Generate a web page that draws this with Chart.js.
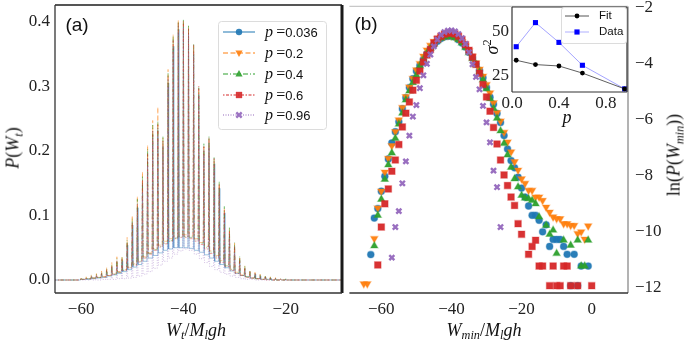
<!DOCTYPE html>
<html>
<head>
<meta charset="utf-8">
<script src="https://cdn.jsdelivr.net/npm/chart.js@4.4.1/dist/chart.umd.min.js"></script>
<style>
body { margin: 0; background: #fff; }
#fig { position: relative; width: 685px; height: 341px; overflow: hidden; background: #fff; }
canvas { position: absolute; top: 0; }
.t { position: absolute; white-space: nowrap; line-height: 1; color: #111;
     font-family: "Liberation Serif", serif; font-size: 18px; transform: translate(-50%, -50%); }
.t.rot { transform: translate(-50%, -50%) rotate(-90deg); }
.t sub { font-size: 68%; vertical-align: -0.3em; }
.t sup { font-size: 68%; vertical-align: 0.55em; font-style: normal; }
.sans { font-family: "Liberation Sans", sans-serif; }
.leg { position: absolute; white-space: nowrap; line-height: 1; color: #111;
       font-family: "Liberation Serif", serif; font-size: 16px; transform: translateY(-50%); }
.leg .sans { font-size: 13px; }
.panel { font-family: "Liberation Sans", sans-serif; font-size: 19px; }
.ileg { position: absolute; white-space: nowrap; line-height: 1; color: #111;
        font-family: "Liberation Sans", sans-serif; font-size: 11.5px; transform: translateY(-50%); }
</style>
</head>
<body>
<div id="fig">
  <canvas id="cA" width="345" height="341" style="left:0"></canvas>
  <canvas id="cB" width="342" height="341" style="left:343px"></canvas>
  <canvas id="cI" width="215" height="130" style="left:470px"></canvas>

  <div class="t panel" style="left:77px;top:24px">(a)</div>
  <div class="t panel" style="left:366px;top:23px">(b)</div>
  <div class="t rot" style="left:14px;top:148px"><i>P</i>(<i>W<sub>t</sub></i>)</div>
  <div class="t" style="left:196px;top:331px"><i>W<sub>t</sub></i>/<i>M<sub>l</sub>gh</i></div>
  <div class="t" style="left:484px;top:331px"><i>W<sub>min</sub></i>/<i>M<sub>l</sub>gh</i></div>
  <div class="t rot" style="left:675px;top:155px">ln(<i>P</i>(<i>W<sub>min</sub></i>))</div>
  <div class="t rot" style="left:491px;top:47px"><i>σ</i><sup>2</sup></div>
  <div class="t" style="left:567px;top:117px"><i>p</i></div>
  <div id="legA"></div>
  <div class="ileg" style="left:599px;top:16px">Fit</div>
  <div class="ileg" style="left:599px;top:32px">Data</div>
</div>
<script>
// ---------- panel (a): histogram of W_t, spike tops at integer W_t, floor between spikes ----------
const pLabels = ["0.036", "0.2", "0.4", "0.6", "0.96"];
const wtGrid = Array.from({ length: 41 }, (_, i) => -60 + i);   // -60 ... -20
const wtEnds = [-66, -8];

const topsA036 = [.002,.003,.005,.007,.010,.014,.020,.027,.030,.054,.085,.112,.148,.188,.225,.232,.208,.305,.362,.388,.392,.382,.352,.288,.200,.212,.180,.142,.104,.072,.050,.031,.018,.012,.009,.006,.004,.003,.002,.001,.001];
const topsA02  = [.003,.005,.008,.010,.014,.020,.027,.036,.037,.066,.100,.130,.168,.209,.247,.268,.220,.326,.380,.403,.402,.393,.362,.296,.206,.218,.186,.150,.112,.080,.057,.036,.022,.015,.012,.009,.007,.005,.004,.003,.002];
const topsA04  = [.002,.004,.007,.009,.012,.018,.024,.033,.035,.062,.095,.125,.160,.203,.240,.245,.223,.320,.378,.400,.404,.395,.366,.298,.211,.222,.191,.152,.114,.081,.058,.037,.021,.014,.011,.008,.006,.004,.003,.002,.002];
const topsA06  = [.002,.003,.006,.008,.011,.016,.022,.030,.032,.058,.090,.118,.155,.196,.232,.240,.215,.315,.372,.398,.400,.390,.364,.300,.208,.220,.188,.148,.108,.076,.053,.033,.019,.013,.010,.007,.005,.004,.003,.002,.001];
const topsA096 = [.001,.002,.003,.005,.007,.010,.015,.021,.024,.045,.074,.100,.136,.176,.214,.222,.200,.296,.355,.383,.390,.380,.350,.285,.195,.205,.172,.134,.096,.064,.042,.025,.013,.008,.006,.004,.003,.002,.001,.001,.000];

// floor of each curve half way between spikes (at k + 0.5)
const floorA036 = [.001,.001,.002,.003,.004,.006,.008,.010,.013,.016,.020,.024,.029,.034,.038,.042,.046,.048,.050,.050,.050,.049,.046,.043,.039,.034,.029,.024,.019,.014,.010,.007,.005,.003,.002,.001,.001,.000,.000,.000,.000];
const floorA02  = [.001,.002,.003,.004,.005,.007,.010,.013,.016,.020,.025,.030,.036,.042,.048,.054,.060,.064,.068,.070,.070,.068,.064,.058,.052,.045,.038,.030,.023,.017,.012,.008,.005,.003,.002,.001,.001,.000,.000,.000,.000];
const floorA04  = [.001,.002,.003,.004,.005,.007,.009,.012,.015,.019,.024,.029,.035,.041,.047,.052,.057,.061,.065,.067,.067,.066,.062,.057,.050,.043,.036,.029,.022,.016,.011,.007,.005,.003,.002,.001,.001,.000,.000,.000,.000];
const floorA06  = [.001,.002,.003,.004,.005,.007,.009,.012,.015,.019,.023,.028,.034,.040,.046,.051,.056,.060,.064,.066,.066,.064,.060,.055,.048,.041,.034,.027,.021,.015,.010,.007,.004,.003,.002,.001,.000,.000,.000,.000,.000];
const floorA096 = [.000,.000,.000,.000,.001,.001,.001,.002,.002,.003,.004,.006,.009,.013,.018,.023,.029,.034,.040,.045,.048,.046,.040,.033,.027,.021,.016,.012,.009,.006,.004,.002,.001,.001,.000,.000,.000,.000,.000,.000,.000];

const leftXTicks = [-60, -40, -20];
const leftYTicks = [0, 0.1, 0.2, 0.3, 0.4];

// ---------- panel (b): ln P(W_min) ----------
const wMinGrid = Array.from({ length: 66 }, (_, i) => -65 + i);   // -65 ... 0
const lnB036 = [null,null,-10.81,-9.51,-9.17,-8.55,-8.02,-7.40,-6.83,-6.43,-6.08,-5.61,-5.22,-4.86,-4.54,-4.27,-4.07,-3.86,-3.66,-3.48,-3.32,-3.21,-3.11,-3.05,-3.03,-3.03,-3.06,-3.15,-3.27,-3.41,-3.60,-3.80,-4.02,-4.25,-4.51,-4.86,-5.20,-5.45,-5.78,-6.10,-6.57,-7.05,-7.46,-7.72,-8.05,-8.44,-8.76,-9.08,-9.41,-9.41,-9.59,-10.00,-9.75,-10.52,-10.27,-10.27,-10.27,-10.52,-10.80,-11.92,-10.80,-11.92,-11.22,null,-11.22,null];
const lnB02  = [-11.85,-11.85,null,-10.24,-9.15,-8.55,-7.87,-7.38,-6.93,-6.43,-6.01,-5.57,-5.18,-4.84,-4.53,-4.23,-4.00,-3.74,-3.52,-3.35,-3.21,-3.12,-3.06,-3.02,-3.00,-3.01,-3.05,-3.12,-3.22,-3.38,-3.55,-3.75,-3.98,-4.20,-4.45,-4.75,-5.05,-5.40,-5.75,-6.05,-6.45,-6.80,-7.15,-7.50,-7.80,-8.11,-8.27,-8.52,-8.52,-8.76,-8.76,-8.88,-9.12,-9.30,-9.47,-9.53,-9.53,-9.71,-9.71,-9.77,-9.77,-10.06,-10.00,-10.26,-9.79,null];
const lnB04  = [null,null,null,-10.50,-9.41,-8.84,-8.13,-7.61,-7.19,-6.67,-6.16,-5.77,-5.30,-4.98,-4.68,-4.42,-4.09,-3.86,-3.64,-3.45,-3.30,-3.18,-3.10,-3.05,-3.03,-3.03,-3.08,-3.15,-3.27,-3.43,-3.62,-3.82,-4.05,-4.30,-4.58,-4.90,-5.25,-5.60,-5.95,-6.40,-6.85,-7.26,-7.70,-8.11,-8.40,-8.70,-8.80,-8.82,-8.88,-9.00,-9.47,null,-9.77,-10.09,-9.94,-10.77,null,-10.30,null,-10.48,null,-10.30,-11.22,-11.22,-10.30,null];
const lnB06  = [null,null,null,null,-11.18,-9.83,-9.00,-8.47,-7.84,-7.44,-6.89,-6.26,-5.77,-5.37,-4.95,-4.60,-4.27,-3.95,-3.70,-3.50,-3.27,-3.13,-3.03,-2.96,-2.92,-2.91,-2.95,-3.03,-3.15,-3.33,-3.53,-3.77,-4.03,-4.35,-4.75,-5.19,-5.70,-6.28,-6.87,-7.44,-7.97,-8.35,-8.76,-9.06,-9.71,-10.09,null,-10.80,-10.52,-10.30,-11.22,-11.22,null,-11.92,-11.22,-11.92,-11.92,-11.22,-11.22,-11.92,null,-11.92,null,null,null,-11.92];
const lnB096 = [null,null,null,null,null,null,null,null,-10.92,-9.83,-9.26,-8.27,-7.49,-6.57,-5.89,-5.48,-4.88,-4.42,-4.01,-3.68,-3.39,-3.15,-2.98,-2.88,-2.83,-2.82,-2.86,-2.95,-3.10,-3.30,-3.60,-4.03,-4.48,-4.92,-5.51,-6.10,-6.81,-7.82,-8.41,-9.83,null,null,null,null,null,null,null,null,null,null,null,null,null,null,null,null,null,null,null,null,null,null,null,null,null,null];
const rightXTicks = [-60, -40, -20, 0];
const rightYTicks = [-2, -4, -6, -8, -10, -12];

// ---------- inset: sigma^2 vs p ----------
const insetP = [0.036, 0.2, 0.4, 0.6, 0.96];
const sigmaFit = [33.7, 31.2, 30.4, 26.3, 17.2];
const sigmaData = [41.5, 55.4, 44.0, 30.8, 17.2];
const insetXTicks = [0, 0.4, 0.8];
const insetYTicks = [25, 50];

// ---------- styles ----------
const tab = [[31,119,180],[255,127,14],[44,160,44],[214,39,40],[148,103,189]];
const rgba = (c, a) => `rgba(${c[0]},${c[1]},${c[2]},${a})`;
const dashA = [[], [5, 2.5], [5, 2, 1, 2], [1.5, 1.5, 3, 1.5], [1, 1.5]];
const markA = [
  { style: 'circle', r: 3.2, rot: 0 },
  { style: 'triangle', r: 4, rot: 180 },
  { style: 'triangle', r: 4, rot: 0 },
  { style: 'rect', r: 4.4, rot: 0 },
  { style: 'crossRot', r: 3.6, rot: 0 },
];
const tickFont = { family: 'Liberation Serif', size: 17 };
const fmtNum = v => (v < 0 ? '\u2212' + Math.abs(v) : String(v));
const setTicks = list => s => { s.ticks = list.map(v => ({ value: v })); };
// fixed axis thickness, no extra room for overhanging labels
const fixSize = (dim, px) => s => {
  s[dim] = px;
  s.paddingTop = 0; s.paddingBottom = 0; s.paddingLeft = 0; s.paddingRight = 0;
};
const noGrid = { display: false, drawTicks: false };

function spikeLine(tops, floor) {
  const pts = [{ x: wtEnds[0], y: 0 }];
  wtGrid.forEach((k, i) => {
    const before = i > 0 ? floor[i - 1] : 0;
    pts.push({ x: k - 0.12, y: before }, { x: k, y: tops[i] }, { x: k + 0.12, y: floor[i] });
  });
  pts.push({ x: wtEnds[1], y: 0 });
  return pts;
}

function frame(colors, widths) {
  return {
    id: 'frame',
    afterDatasetsDraw(chart) {
      const { ctx, chartArea: a } = chart;
      const sides = [[a.left, a.top, a.right, a.top], [a.right, a.top, a.right, a.bottom],
                     [a.left, a.bottom, a.right, a.bottom], [a.left, a.top, a.left, a.bottom]];
      ctx.save();
      sides.forEach((s, i) => {
        if (!widths[i]) return;
        ctx.strokeStyle = colors[i]; ctx.lineWidth = widths[i];
        ctx.beginPath(); ctx.moveTo(s[0], s[1]); ctx.lineTo(s[2], s[3]); ctx.stroke();
      });
      ctx.restore();
    }
  };
}

function marker(ctx, m, x, y, fill, edge) {
  ctx.save();
  ctx.translate(x, y);
  ctx.rotate(m.rot * Math.PI / 180);
  ctx.fillStyle = fill; ctx.strokeStyle = edge || fill;
  ctx.beginPath();
  const r = m.r;
  if (m.style === 'circle') { ctx.arc(0, 0, r, 0, Math.PI * 2); ctx.fill(); }
  else if (m.style === 'triangle') { ctx.moveTo(0, -r); ctx.lineTo(r * 0.9, r * 0.6); ctx.lineTo(-r * 0.9, r * 0.6); ctx.closePath(); ctx.fill(); }
  else if (m.style === 'rect') { const h = r * 0.72; ctx.rect(-h, -h, 2 * h, 2 * h); ctx.fill(); }
  else { ctx.lineWidth = 2.4; ctx.moveTo(-r * 0.75, -r * 0.75); ctx.lineTo(r * 0.75, r * 0.75); ctx.moveTo(r * 0.75, -r * 0.75); ctx.lineTo(-r * 0.75, r * 0.75); ctx.stroke(); }
  ctx.restore();
}

function roundBox(ctx, x, y, w, h, r) {
  ctx.beginPath();
  ctx.moveTo(x + r, y); ctx.lineTo(x + w - r, y); ctx.quadraticCurveTo(x + w, y, x + w, y + r);
  ctx.lineTo(x + w, y + h - r); ctx.quadraticCurveTo(x + w, y + h, x + w - r, y + h);
  ctx.lineTo(x + r, y + h); ctx.quadraticCurveTo(x, y + h, x, y + h - r);
  ctx.lineTo(x, y + r); ctx.quadraticCurveTo(x, y, x + r, y); ctx.closePath();
}

// legend rows of panel (a)
const legRowsY = [32, 53, 74, 95, 115];
const legendA = {
  id: 'legendA',
  afterDraw(chart) {
    const ctx = chart.ctx;
    ctx.save();
    roundBox(ctx, 218.5, 21.5, 108, 108, 3);
    ctx.fillStyle = 'rgba(255,255,255,0.85)'; ctx.fill();
    ctx.strokeStyle = '#dcdcdc'; ctx.lineWidth = 1; ctx.stroke();
    legRowsY.forEach((y, i) => {
      ctx.strokeStyle = rgba(tab[i], 0.5); ctx.lineWidth = 2;
      ctx.setLineDash(dashA[i]);
      ctx.beginPath(); ctx.moveTo(223, y); ctx.lineTo(255, y); ctx.stroke();
      ctx.setLineDash([]);
      marker(ctx, markA[i], 239, y, rgba(tab[i], 0.9), rgba(tab[i], 0.9));
    });
    ctx.restore();
  }
};

const leg = document.getElementById('legA');
legRowsY.forEach((y, i) => {
  const d = document.createElement('div');
  d.className = 'leg';
  d.style.left = '265px'; d.style.top = y + 'px';
  d.innerHTML = '<i>p</i>&thinsp;=<span class="sans">' + pLabels[i] + '</span>';
  leg.appendChild(d);
});

const baseOpts = {
  responsive: false, animation: false, devicePixelRatio: 1,
  plugins: { legend: { display: false }, tooltip: { enabled: false } },
};

// ---------- chart (a) ----------
const topsA = [topsA036, topsA02, topsA04, topsA06, topsA096];
const floorA = [floorA036, floorA02, floorA04, floorA06, floorA096];
new Chart(document.getElementById('cA'), {
  type: 'scatter',
  data: {
    datasets: topsA.map((tops, i) => ({
      label: 'p=' + pLabels[i],
      data: spikeLine(tops, floorA[i]),
      showLine: true, pointRadius: 0, borderWidth: 1,
      borderColor: rgba(tab[i], 0.42), borderDash: dashA[i],
      order: 4 - i,
    })),
  },
  options: {
    ...baseOpts,
    layout: { padding: { left: 0, top: 5, right: 3, bottom: 0 } },
    scales: {
      x: {
        type: 'linear', min: -65.1, max: -9.0,
        grid: noGrid, border: { display: false },
        afterBuildTicks: setTicks(leftXTicks),
        afterFit: fixSize('height', 48),
        ticks: { font: tickFont, color: '#222', padding: 6, maxRotation: 0, autoSkip: false, callback: fmtNum },
      },
      y: {
        min: -0.0201, max: 0.4257,
        grid: noGrid, border: { display: false },
        afterBuildTicks: setTicks(leftYTicks),
        afterFit: fixSize('width', 55),
        ticks: { font: tickFont, color: '#222', padding: 5, autoSkip: false, callback: v => v.toFixed(1) },
      },
    },
  },
  plugins: [frame(['#555', '#1a1a1a', '#333', '#333'], [2, 3, 1.3, 1.3]), legendA],
});

// ---------- chart (b) ----------
const lnB = [lnB036, lnB02, lnB04, lnB06, lnB096];
new Chart(document.getElementById('cB'), {
  type: 'scatter',
  data: {
    datasets: lnB.map((vals, i) => ({
      label: 'p=' + pLabels[i],
      data: wMinGrid.map((w, j) => ({ x: w, y: vals[j] })).filter(p => p.y !== null),
      pointStyle: markA[i].style, pointRotation: markA[i].rot,
      pointRadius: [3.4, 4.2, 4.2, 4.6, 3.6][i],
      backgroundColor: rgba(tab[i], 0.95),
      borderColor: i === 4 ? rgba(tab[i], 0.95) : rgba(tab[i], 0.35),
      borderWidth: i === 4 ? 2.4 : 1.2,
      order: 4 - i,
    })),
  },
  options: {
    ...baseOpts,
    layout: { padding: { left: 1, top: 5, right: 0, bottom: 0 } },
    scales: {
      x: {
        type: 'linear', min: -69.1, max: 10.35,
        grid: noGrid, border: { display: false },
        afterBuildTicks: setTicks(rightXTicks),
        afterFit: fixSize('height', 48),
        ticks: { font: tickFont, color: '#222', padding: 6, maxRotation: 0, autoSkip: false, callback: fmtNum },
      },
      y: {
        position: 'right', min: -12.18, max: -1.965,
        grid: noGrid, border: { display: false },
        afterBuildTicks: setTicks(rightYTicks),
        afterFit: fixSize('width', 57),
        ticks: { font: tickFont, color: '#222', padding: 7, autoSkip: false, callback: fmtNum },
      },
    },
  },
  plugins: [frame(['#c8c8c8', '#8a8a8a', '#333', '#1a1a1a'], [1.3, 1.3, 1.3, 0])],
});

// ---------- inset ----------
const insetBg = {
  id: 'insetBg',
  beforeDatasetsDraw(chart) {
    const { ctx, chartArea: a } = chart;
    ctx.save(); ctx.fillStyle = '#fff';
    ctx.fillRect(a.left, a.top, a.right - a.left, a.bottom - a.top);
    ctx.restore();
  }
};
const insetLegend = {
  id: 'insetLegend',
  afterDraw(chart) {
    const ctx = chart.ctx;
    ctx.save();
    roundBox(ctx, 91.5, 7.5, 65, 36, 2.5);
    ctx.fillStyle = 'rgba(255,255,255,0.85)'; ctx.fill();
    ctx.strokeStyle = '#dcdcdc'; ctx.lineWidth = 1; ctx.stroke();
    ctx.lineWidth = 0.9; ctx.strokeStyle = 'rgba(0,0,0,0.75)';
    ctx.beginPath(); ctx.moveTo(95, 16); ctx.lineTo(119, 16); ctx.stroke();
    marker(ctx, { style: 'circle', r: 2.4, rot: 0 }, 107, 16, '#000');
    ctx.strokeStyle = 'rgba(90,90,255,0.55)';
    ctx.beginPath(); ctx.moveTo(95, 32); ctx.lineTo(119, 32); ctx.stroke();
    marker(ctx, { style: 'rect', r: 3.6, rot: 0 }, 107, 32, '#0000ff');
    ctx.restore();
  }
};
new Chart(document.getElementById('cI'), {
  type: 'scatter',
  data: {
    datasets: [
      { label: 'Fit', data: insetP.map((p, i) => ({ x: p, y: sigmaFit[i] })), showLine: true,
        borderColor: 'rgba(0,0,0,0.7)', borderWidth: 0.9, pointStyle: 'circle', pointRadius: 2.4,
        backgroundColor: '#000', pointBorderWidth: 0 },
      { label: 'Data', data: insetP.map((p, i) => ({ x: p, y: sigmaData[i] })), showLine: true,
        borderColor: 'rgba(90,90,255,0.55)', borderWidth: 1, pointStyle: 'rect', pointRadius: 3.6,
        backgroundColor: '#0000ff', pointBorderWidth: 0 },
    ],
  },
  options: {
    ...baseOpts,
    layout: { padding: { left: 0, top: 7, right: 58, bottom: 0 } },
    scales: {
      x: {
        type: 'linear', min: 0, max: 0.98,
        grid: noGrid, border: { display: false },
        afterBuildTicks: setTicks(insetXTicks),
        afterFit: fixSize('height', 38),
        ticks: { font: tickFont, color: '#222', padding: 1, maxRotation: 0, autoSkip: false, callback: v => v.toFixed(1) },
      },
      y: {
        min: 15.4, max: 64.4,
        grid: noGrid, border: { display: false },
        afterBuildTicks: setTicks(insetYTicks),
        afterFit: fixSize('width', 42),
        ticks: { font: tickFont, color: '#222', padding: 3, autoSkip: false, callback: v => String(v) },
      },
    },
  },
  plugins: [insetBg, frame(['#333', '#333', '#333', '#333'], [1.2, 1.2, 1.2, 1.2]), insetLegend],
});
</script>
</body>
</html>
